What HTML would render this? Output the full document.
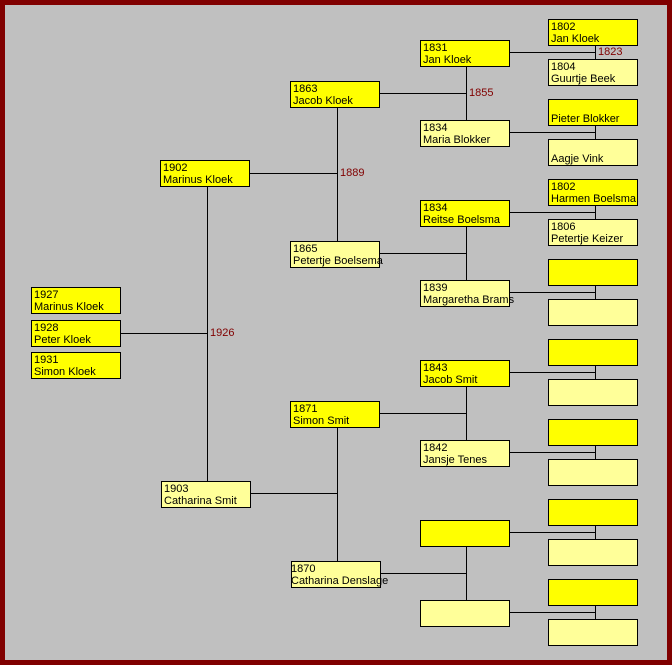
<!DOCTYPE html>
<html><head><meta charset="utf-8"><style>
html,body{margin:0;padding:0}
body{width:672px;height:665px;position:relative;overflow:hidden;background:#800000;font-family:"Liberation Sans",Arial,sans-serif}
#c{position:absolute;left:5px;top:5px;width:662px;height:655px;background:#c0c0c0}
.b{position:absolute;box-sizing:border-box;width:90px;height:27px;border:1px solid #000;background:#ffff00;font-size:11px;line-height:12px;padding:1px 0 0 2px;white-space:nowrap;color:#000}
.f{background:#ffff99}
.l{position:absolute;font-size:11px;color:#800000;line-height:12px}
svg{position:absolute;left:0;top:0}
</style></head><body>
<div id="c"></div>
<svg width="672" height="665" stroke="#000" stroke-width="1" shape-rendering="crispEdges">
<!-- gen1 -->
<line x1="207.5" y1="186" x2="207.5" y2="481"/><line x1="120" y1="333.5" x2="207" y2="333.5"/>
<!-- gen2 -->
<line x1="337.5" y1="107" x2="337.5" y2="241"/><line x1="249" y1="173.5" x2="337" y2="173.5"/>
<line x1="337.5" y1="427" x2="337.5" y2="561"/><line x1="249" y1="493.5" x2="337" y2="493.5"/>
<!-- gen3 -->
<line x1="466.5" y1="66" x2="466.5" y2="120"/><line x1="379" y1="93.5" x2="466" y2="93.5"/>
<line x1="466.5" y1="226" x2="466.5" y2="280"/><line x1="379" y1="253.5" x2="466" y2="253.5"/>
<line x1="466.5" y1="386" x2="466.5" y2="440"/><line x1="379" y1="413.5" x2="466" y2="413.5"/>
<line x1="466.5" y1="546" x2="466.5" y2="600"/><line x1="379" y1="573.5" x2="466" y2="573.5"/>
<!-- gen4 -->
<line x1="595.5" y1="45" x2="595.5" y2="59"/><line x1="509" y1="52.5" x2="595" y2="52.5"/>
<line x1="595.5" y1="125" x2="595.5" y2="139"/><line x1="509" y1="132.5" x2="595" y2="132.5"/>
<line x1="595.5" y1="205" x2="595.5" y2="219"/><line x1="509" y1="212.5" x2="595" y2="212.5"/>
<line x1="595.5" y1="285" x2="595.5" y2="299"/><line x1="509" y1="292.5" x2="595" y2="292.5"/>
<line x1="595.5" y1="365" x2="595.5" y2="379"/><line x1="509" y1="372.5" x2="595" y2="372.5"/>
<line x1="595.5" y1="445" x2="595.5" y2="459"/><line x1="509" y1="452.5" x2="595" y2="452.5"/>
<line x1="595.5" y1="525" x2="595.5" y2="539"/><line x1="509" y1="532.5" x2="595" y2="532.5"/>
<line x1="595.5" y1="605" x2="595.5" y2="619"/><line x1="509" y1="612.5" x2="595" y2="612.5"/>
</svg>

<div class="l" style="left:598px;top:46px">1823</div>
<div class="l" style="left:469px;top:87px">1855</div>
<div class="l" style="left:340px;top:167px">1889</div>
<div class="l" style="left:210px;top:327px">1926</div>

<!-- children -->
<div class="b" style="left:31px;top:287px">1927<br>Marinus Kloek</div>
<div class="b" style="left:31px;top:320px">1928<br>Peter Kloek</div>
<div class="b" style="left:31px;top:352px">1931<br>Simon Kloek</div>

<!-- gen1 -->
<div class="b" style="left:160px;top:160px">1902<br>Marinus Kloek</div>
<div class="b f" style="left:161px;top:481px">1903<br>Catharina Smit</div>

<!-- gen2 -->
<div class="b" style="left:290px;top:81px">1863<br>Jacob Kloek</div>
<div class="b f" style="left:290px;top:241px">1865<br>Petertje Boelsema</div>
<div class="b" style="left:290px;top:401px">1871<br>Simon Smit</div>
<div class="b f" style="left:291px;top:561px;overflow:visible"><span style="position:relative;left:-3px">1870<br>Catharina Denslage</span></div>

<!-- gen3 -->
<div class="b" style="left:420px;top:40px">1831<br>Jan Kloek</div>
<div class="b f" style="left:420px;top:120px">1834<br>Maria Blokker</div>
<div class="b" style="left:420px;top:200px">1834<br>Reitse Boelsma</div>
<div class="b f" style="left:420px;top:280px">1839<br>Margaretha Brams</div>
<div class="b" style="left:420px;top:360px">1843<br>Jacob Smit</div>
<div class="b f" style="left:420px;top:440px">1842<br>Jansje Tenes</div>
<div class="b" style="left:420px;top:520px"></div>
<div class="b f" style="left:420px;top:600px"></div>

<!-- gen4 -->
<div class="b" style="left:548px;top:19px">1802<br>Jan Kloek</div>
<div class="b f" style="left:548px;top:59px">1804<br>Guurtje Beek</div>
<div class="b" style="left:548px;top:99px">&nbsp;<br>Pieter Blokker</div>
<div class="b f" style="left:548px;top:139px">&nbsp;<br>Aagje Vink</div>
<div class="b" style="left:548px;top:179px">1802<br>Harmen Boelsma</div>
<div class="b f" style="left:548px;top:219px">1806<br>Petertje Keizer</div>
<div class="b" style="left:548px;top:259px"></div>
<div class="b f" style="left:548px;top:299px"></div>
<div class="b" style="left:548px;top:339px"></div>
<div class="b f" style="left:548px;top:379px"></div>
<div class="b" style="left:548px;top:419px"></div>
<div class="b f" style="left:548px;top:459px"></div>
<div class="b" style="left:548px;top:499px"></div>
<div class="b f" style="left:548px;top:539px"></div>
<div class="b" style="left:548px;top:579px"></div>
<div class="b f" style="left:548px;top:619px"></div>
</body></html>
